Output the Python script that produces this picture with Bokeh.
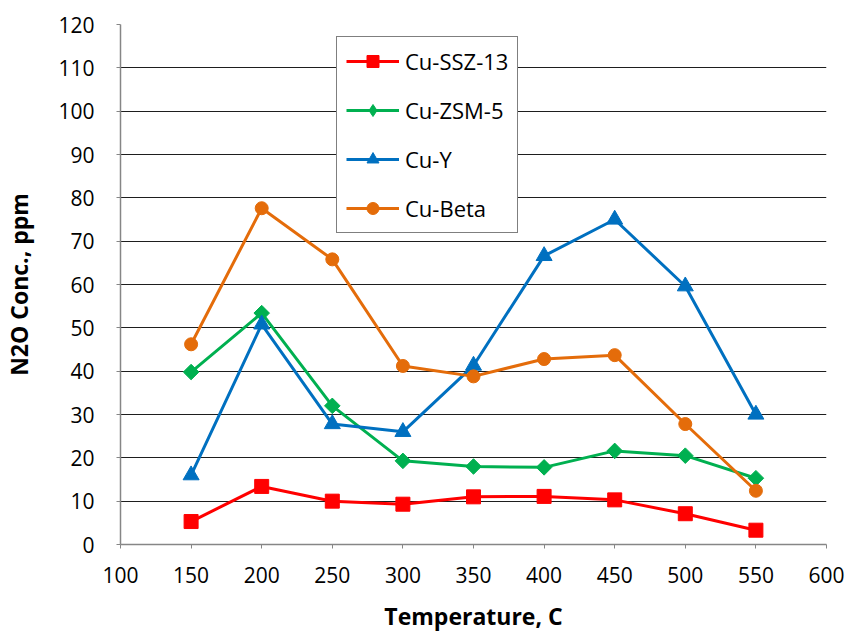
import math
from bokeh.plotting import figure
from bokeh.models import FixedTicker, Range1d, Legend, LegendItem
from bokeh.embed import file_html
from bokeh.resources import INLINE

temps = [150, 200, 250, 300, 350, 400, 450, 500, 550]
cu_ssz13 = [5.3, 13.4, 10.0, 9.3, 11.0, 11.1, 10.3, 7.1, 3.3]
cu_zsm5 = [39.8, 53.4, 32.0, 19.3, 18.0, 17.8, 21.6, 20.5, 15.3]
cu_y = [16.0, 50.8, 27.8, 26.0, 41.3, 66.6, 75.0, 59.6, 30.0]
cu_beta = [46.2, 77.6, 65.8, 41.2, 38.8, 42.8, 43.7, 27.8, 12.4]

x_ticks = [100, 150, 200, 250, 300, 350, 400, 450, 500, 550, 600]
y_ticks = [0, 10, 20, 30, 40, 50, 60, 70, 80, 90, 100, 110, 120]

FONT = "Open Sans"

p = figure(width=848, height=636, output_backend="svg", toolbar_location=None,
           x_range=Range1d(100, 600), y_range=Range1d(0, 120),
           min_border_left=120, min_border_right=22, min_border_top=24, min_border_bottom=92)
p.outline_line_color = None
p.background_fill_color = "white"
p.border_fill_color = "white"

p.xgrid.grid_line_color = None
p.ygrid.grid_line_color = "#1e1e1e"
p.ygrid.grid_line_width = 1

p.xaxis.ticker = FixedTicker(ticks=x_ticks)
p.yaxis.ticker = FixedTicker(ticks=y_ticks)
for ax in (p.xaxis[0], p.yaxis[0]):
    ax.axis_line_color = "#868686"
    ax.axis_line_width = 1.5
    ax.major_tick_line_color = "#868686"
    ax.major_tick_in = 0
    ax.major_tick_out = 4
    ax.minor_tick_line_color = None
    ax.major_label_text_font = FONT
    ax.major_label_text_font_size = "21px"
    ax.major_label_text_color = "black"
    ax.axis_label_text_font = FONT
    ax.axis_label_text_font_style = "bold"
    ax.axis_label_text_font_size = "23px"
    ax.axis_label_text_color = "black"

p.xaxis.major_label_standoff = 18
p.yaxis.major_label_standoff = 22
p.xaxis.axis_label = "Temperature, C"
p.yaxis.axis_label = "N2O Conc., ppm"
p.xaxis.axis_label_standoff = 14
p.yaxis.axis_label_standoff = 20

series = [
    ("Cu-SSZ-13", cu_ssz13, "#FF0000", "square", 14, 0.0),
    ("Cu-ZSM-5", cu_zsm5, "#00B050", "square", 11, math.pi / 4),
    ("Cu-Y", cu_y, "#0070C0", "triangle", 16, 0.0),
    ("Cu-Beta", cu_beta, "#E46C0A", "circle", 13, 0.0),
]

items = []
for name, vals, color, marker, size, ang in series:
    lr = p.line(temps, vals, line_color=color, line_width=3)
    sr = p.scatter(temps, vals, marker=marker, size=size, angle=ang,
                   fill_color=color, line_color=color)
    rends = [lr, sr]
    if ang != 0.0:
        # legend-only proxy glyph (not drawn in the plot) so the legend shows a diamond
        lg = p.scatter(x=[math.nan], y=[math.nan], marker="diamond", size=19,
                       fill_color=color, line_color=color)
        rends = [lr, lg]
    items.append(LegendItem(label=name, renderers=rends))

legend = Legend(items=items, location=(216, 311))
legend.border_line_color = "black"
legend.border_line_width = 1.2
legend.background_fill_color = "white"
legend.background_fill_alpha = 1
legend.padding = 9
legend.margin = 0
legend.spacing = 19
legend.glyph_width = 53
legend.glyph_height = 30
legend.label_height = 30
legend.label_standoff = 6
legend.label_text_font = FONT
legend.label_text_font_size = "22px"
legend.label_text_color = "black"
p.add_layout(legend, "center")

open("out.html", "w").write(file_html(p, INLINE))
